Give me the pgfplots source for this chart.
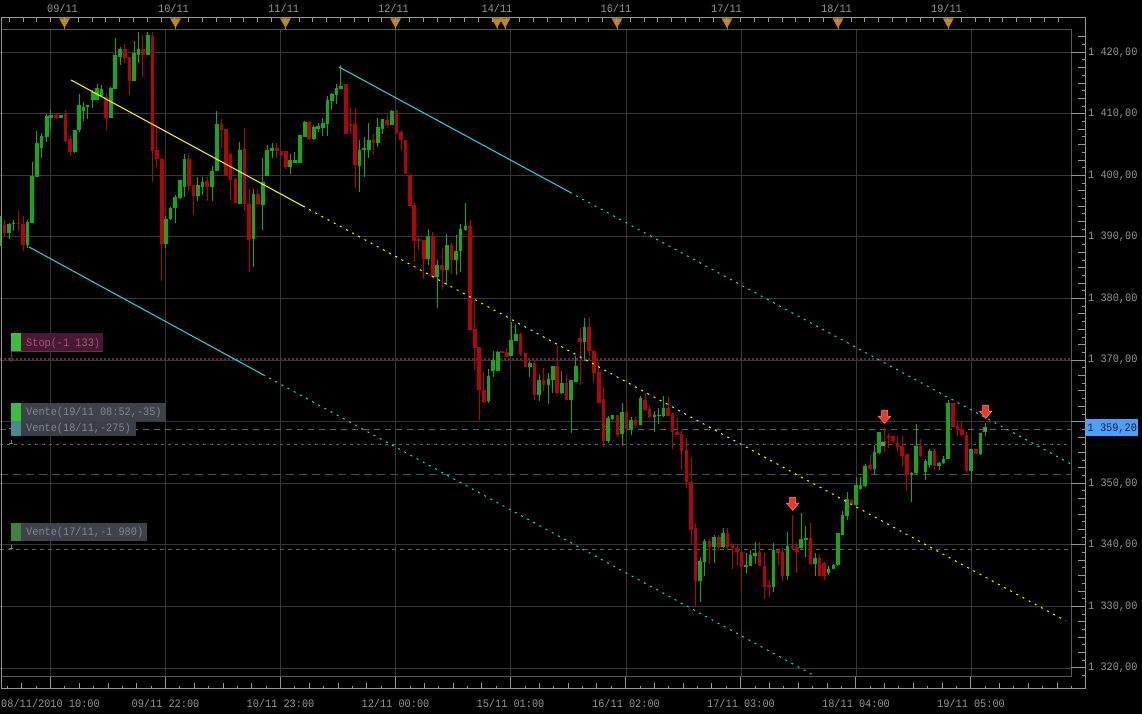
\documentclass[border=0pt]{standalone}
\usepackage{pgfplots}
\pgfplotsset{compat=1.18}
\usepackage{pgfplotstable}
\usepackage{fontspec}
\newfontfamily\pxfam[FakeStretch=0.9]{Liberation Mono}
\newcommand\pxf{\pxfam\fontsize{11.4}{12}\selectfont}
\definecolor{cup}{RGB}{22,168,22}
\definecolor{cdn}{RGB}{178,6,6}
\definecolor{gridc}{RGB}{55,55,55}
\definecolor{innerc}{RGB}{88,88,88}
\definecolor{scalec}{RGB}{150,150,150}
\definecolor{labc}{RGB}{150,150,150}
\definecolor{yel}{RGB}{255,255,0}
\definecolor{cya}{RGB}{40,215,225}
\definecolor{stopc}{RGB}{95,40,70}
\definecolor{ordc}{RGB}{95,95,105}
\definecolor{dashbl}{RGB}{70,80,100}
\definecolor{trig}{RGB}{192,136,20}
\definecolor{arrf}{RGB}{232,58,40}
\definecolor{arre}{RGB}{255,140,110}
\definecolor{tagc}{RGB}{70,162,250}
\definecolor{tagt}{RGB}{10,25,60}
\definecolor{sqg}{RGB}{60,190,60}
\definecolor{sqt}{RGB}{70,140,140}
\definecolor{sqd}{RGB}{65,130,65}
\definecolor{stopbox}{RGB}{72,24,52}
\definecolor{stopln}{RGB}{110,50,80}
\definecolor{stoptx}{RGB}{165,85,125}
\definecolor{vbox}{RGB}{62,66,74}
\definecolor{vbox2}{RGB}{58,62,70}
\definecolor{vtx}{RGB}{130,135,145}
\definecolor{conn}{RGB}{120,120,125}
\pgfdeclareplotmark{evtri}{%
  \pgfpathmoveto{\pgfqpoint{-4.5pt}{0pt}}%
  \pgfpathlineto{\pgfqpoint{4.5pt}{0pt}}%
  \pgfpathlineto{\pgfqpoint{0pt}{-8pt}}%
  \pgfpathclose\pgfusepathqfillstroke
  \pgfpathmoveto{\pgfqpoint{0pt}{-8pt}}%
  \pgfpathlineto{\pgfqpoint{0pt}{-11pt}}%
  \pgfusepathqstroke}
\pgfdeclareplotmark{sigarrow}{%
  \pgfpathmoveto{\pgfqpoint{-3pt}{6.5pt}}%
  \pgfpathlineto{\pgfqpoint{3pt}{6.5pt}}%
  \pgfpathlineto{\pgfqpoint{3pt}{0.5pt}}%
  \pgfpathlineto{\pgfqpoint{6.2pt}{0.5pt}}%
  \pgfpathlineto{\pgfqpoint{0pt}{-6.7pt}}%
  \pgfpathlineto{\pgfqpoint{-6.2pt}{0.5pt}}%
  \pgfpathlineto{\pgfqpoint{-3pt}{0.5pt}}%
  \pgfpathclose\pgfusepathqfillstroke}

\pgfplotstableread{
x o h l c
0.5 1388.8 1393.5 1388.6 1393.4
9 1390.6 1392.3 1389.7 1392.1
13.3 1392.2 1392.8 1391.0 1392.3
27.3 1388.7 1392.8 1388.2 1392.5
32 1392.3 1402.2 1392.3 1399.9
36.7 1399.7 1407.3 1399.7 1405.2
41.3 1404.4 1406.9 1402.9 1406.4
46.7 1406.2 1409.9 1405.5 1409.7
50.7 1409.3 1410.7 1407.2 1409.9
60.7 1409.3 1409.9 1409.3 1409.9
74.7 1403.8 1407.4 1403.7 1407.3
79 1407.3 1413.3 1407.1 1411.5
83.3 1410.5 1412.0 1408.8 1411.2
87.3 1411.2 1411.5 1409.2 1411.4
92.7 1412.3 1413.8 1411.0 1413.5
97 1412.3 1414.8 1412.3 1414.2
101.3 1412.9 1414.7 1412.8 1414.1
110.7 1409.4 1414.4 1409.4 1414.2
115 1414.0 1422.4 1414.0 1419.5
120 1419.3 1420.9 1417.9 1420.5
134 1415.3 1421.8 1415.3 1419.9
138.3 1419.6 1423.3 1418.2 1420.6
147.7 1419.6 1423.3 1419.5 1422.8
165.7 1388.9 1393.4 1388.2 1392.9
170.3 1392.9 1394.8 1392.8 1394.7
175 1394.7 1396.9 1392.2 1396.5
180 1396.3 1399.3 1396.1 1399.3
184.3 1398.1 1403.4 1396.5 1402.7
197.7 1396.7 1399.7 1395.9 1398.5
202.3 1398.2 1399.7 1396.9 1399.0
212 1398.2 1401.6 1395.9 1400.7
216.7 1400.7 1410.4 1400.7 1408.3
239.7 1395.4 1405.4 1395.4 1404.2
253.3 1389.6 1397.8 1385.2 1397.0
262.7 1395.2 1402.9 1391.2 1399.0
267 1399.9 1404.9 1399.9 1404.1
272 1404.0 1405.2 1402.8 1404.4
290 1401.4 1403.5 1400.3 1402.5
294.7 1402.0 1403.8 1402.0 1402.5
300 1402.1 1406.6 1402.0 1406.6
304.7 1406.2 1408.8 1406.2 1408.7
313.7 1405.9 1408.2 1405.8 1407.9
318 1407.6 1408.5 1407.0 1408.1
322.7 1407.7 1409.3 1406.4 1408.5
327.3 1408.3 1412.9 1406.4 1412.3
331.7 1412.1 1413.4 1410.6 1413.2
336.3 1413.0 1414.9 1411.6 1414.2
340.7 1414.1 1417.9 1414.1 1414.6
359.3 1401.6 1405.7 1397.3 1404.2
364 1404.1 1406.2 1399.8 1404.4
368.7 1404.2 1408.6 1402.8 1405.8
377.7 1405.2 1409.4 1404.6 1407.8
382.3 1407.6 1409.2 1406.7 1409.1
391.7 1408.2 1410.6 1408.2 1410.5
428 1386.4 1391.3 1385.5 1390.1
437 1383.5 1386.3 1378.4 1385.5
446.7 1384.6 1390.5 1382.2 1388.7
456 1386.3 1390.4 1383.9 1387.7
460.3 1387.7 1392.1 1384.3 1391.3
465.3 1391.2 1395.6 1390.9 1391.8
488.3 1363.3 1368.6 1363.0 1367.5
493 1368.3 1371.5 1367.3 1370.0
497.7 1368.3 1371.5 1368.2 1371.3
511 1370.6 1376.2 1370.6 1373.3
515.7 1373.1 1375.9 1373.1 1374.2
529.7 1368.9 1369.8 1367.2 1369.5
539 1364.4 1367.6 1363.4 1366.8
548.3 1366.0 1367.9 1362.9 1366.9
552.7 1366.8 1369.1 1364.6 1369.1
561.7 1364.6 1368.2 1364.5 1366.3
571 1363.6 1366.8 1358.2 1366.8
575.7 1366.5 1370.6 1366.5 1369.1
584.3 1373.0 1376.9 1369.8 1375.4
608 1356.8 1360.9 1356.6 1360.6
612.3 1360.4 1361.1 1360.3 1361.1
622 1358.0 1363.0 1356.1 1361.6
631 1358.8 1360.7 1357.9 1360.3
640.3 1359.5 1364.2 1359.5 1363.9
654.3 1360.8 1361.7 1358.4 1361.1
658.7 1361.0 1362.2 1359.7 1361.1
663.3 1361.0 1364.2 1360.8 1362.3
700 1334.1 1338.0 1330.7 1337.4
704.3 1337.3 1340.9 1335.0 1340.6
714 1339.7 1341.6 1337.1 1341.3
723 1339.7 1342.7 1339.5 1341.9
746 1336.4 1338.7 1335.4 1336.8
750.3 1336.5 1339.2 1336.5 1338.4
755 1338.2 1340.4 1336.9 1338.7
773.3 1333.1 1340.3 1332.4 1339.2
787.3 1335.0 1342.1 1334.3 1339.8
801 1339.5 1345.1 1339.2 1340.9
805.7 1340.8 1343.0 1338.1 1341.2
815 1336.9 1338.7 1335.0 1337.8
828.3 1335.4 1336.6 1335.1 1336.1
833.3 1336.1 1336.9 1336.1 1336.8
837.7 1336.8 1341.9 1336.6 1341.9
842.3 1341.6 1345.5 1341.6 1344.9
847 1344.7 1348.6 1344.0 1347.5
856 1346.5 1351.1 1346.3 1349.7
860.3 1349.0 1351.1 1348.9 1349.7
865 1349.5 1353.2 1349.4 1352.8
874.3 1352.4 1356.2 1351.4 1355.1
879 1354.9 1358.4 1354.8 1358.4
911.3 1351.4 1351.9 1347.0 1351.7
916 1351.6 1359.7 1351.4 1356.0
925.3 1351.9 1353.9 1350.6 1353.6
929.7 1353.0 1355.5 1352.6 1355.2
939 1352.8 1353.5 1352.1 1353.3
943.3 1353.3 1354.4 1353.2 1353.9
948 1353.9 1363.6 1353.9 1363.0
971 1352.0 1355.6 1350.2 1355.5
980.3 1354.7 1358.2 1354.6 1358.1
985 1358.4 1359.8 1357.7 1359.2
}\upbars

\pgfplotstableread{
x o h l c
4.3 1391.9 1392.8 1390.0 1390.6
18.3 1392.3 1394.2 1391.0 1392.2
23 1392.1 1393.5 1387.8 1388.7
56 1409.9 1410.1 1409.2 1409.3
65.3 1409.9 1410.7 1405.5 1405.6
70 1405.9 1406.5 1403.2 1403.8
106 1412.7 1413.4 1407.4 1409.4
124.7 1420.6 1421.4 1418.2 1419.1
129.3 1419.3 1419.3 1413.0 1415.3
142.7 1420.6 1422.8 1416.0 1419.6
152.3 1422.7 1423.3 1399.0 1404.0
156.7 1404.1 1408.2 1401.3 1402.7
161.7 1402.7 1402.9 1382.9 1388.9
188.7 1402.7 1403.3 1397.4 1398.3
193.3 1398.4 1398.5 1393.6 1396.7
207 1399.1 1399.7 1395.9 1398.2
221.3 1408.3 1409.2 1404.4 1407.4
226 1407.5 1407.6 1400.1 1400.1
230.3 1403.5 1403.6 1396.1 1399.3
235.3 1399.4 1399.6 1395.4 1395.5
244.3 1404.3 1407.7 1394.2 1395.4
249 1395.4 1397.8 1384.3 1389.6
257.7 1397.0 1397.8 1395.2 1395.3
276.7 1404.4 1405.2 1402.9 1403.9
281.3 1403.9 1404.0 1403.2 1403.4
285.7 1403.9 1404.0 1401.1 1401.4
309 1408.7 1408.8 1405.8 1405.9
345.7 1414.8 1414.9 1406.7 1406.7
350.3 1408.3 1411.1 1406.7 1408.1
355 1408.3 1411.0 1398.0 1401.7
373.3 1405.7 1406.7 1403.3 1405.2
387 1409.0 1409.8 1407.7 1408.2
396.3 1410.5 1410.6 1406.8 1406.9
401 1407.0 1407.4 1404.2 1405.8
405.3 1405.8 1405.8 1400.3 1400.3
410 1400.1 1400.3 1395.0 1395.1
414 1395.2 1395.5 1386.0 1389.4
418.7 1389.7 1390.2 1387.9 1389.5
423.7 1389.5 1389.5 1383.2 1386.4
432.7 1390.1 1390.8 1383.5 1383.5
442 1385.5 1388.2 1381.5 1384.6
451.3 1388.7 1389.1 1384.0 1386.3
470 1391.8 1392.8 1374.9 1374.9
474.7 1375.0 1379.6 1368.4 1372.0
479 1372.1 1372.2 1360.2 1365.2
483.7 1365.2 1368.1 1363.0 1363.2
502 1371.5 1371.5 1371.3 1371.3
506.7 1371.3 1371.9 1370.6 1370.6
520.3 1374.2 1374.4 1370.6 1371.0
525.3 1371.1 1371.2 1368.9 1368.9
534.3 1369.5 1370.0 1363.6 1364.4
543.3 1366.8 1368.7 1365.0 1366.0
557 1369.1 1372.3 1364.6 1364.6
566.3 1366.3 1367.6 1363.6 1363.6
580 1373.6 1375.2 1366.0 1373.0
589 1375.4 1377.0 1370.6 1371.5
593.7 1371.5 1371.6 1366.4 1367.9
598.7 1368.0 1369.5 1363.0 1363.0
603.3 1363.7 1365.6 1355.9 1356.8
617.3 1361.1 1361.1 1357.6 1357.9
626.3 1361.6 1363.1 1358.8 1358.8
635.3 1360.3 1360.7 1359.0 1359.5
645 1363.6 1364.6 1361.8 1361.9
649.3 1362.1 1362.6 1360.6 1360.7
668 1362.3 1364.0 1361.0 1361.0
672.3 1361.2 1361.4 1355.5 1358.3
677 1358.4 1360.6 1357.9 1357.9
681.3 1358.0 1358.7 1352.2 1355.2
686.3 1355.4 1357.4 1349.3 1350.2
691 1350.3 1354.2 1340.2 1342.5
695.3 1342.7 1343.5 1330.0 1334.1
709.3 1340.6 1341.0 1336.9 1339.7
718.7 1341.3 1341.6 1339.2 1339.7
727.3 1342.0 1342.7 1339.2 1339.7
732.3 1340.0 1340.3 1336.1 1339.5
737 1339.5 1340.0 1336.7 1338.8
741.3 1338.9 1338.9 1332.3 1336.4
759.3 1338.8 1340.4 1336.5 1336.5
764.3 1336.6 1338.7 1331.2 1333.2
769 1333.5 1334.3 1331.5 1333.2
778 1339.2 1339.5 1336.8 1338.7
782.3 1338.8 1339.5 1334.1 1335.0
792.3 1339.8 1344.8 1339.2 1339.5
796.7 1339.7 1340.3 1335.4 1338.8
810.3 1341.1 1343.5 1336.8 1336.9
819.3 1337.8 1338.5 1334.9 1334.9
824 1337.1 1337.2 1334.3 1334.9
851.3 1347.3 1347.4 1346.5 1346.6
870 1353.0 1354.6 1352.0 1352.3
884 1356.8 1359.1 1355.1 1356.2
888.3 1357.7 1358.1 1355.7 1357.4
893 1357.6 1357.7 1356.6 1356.8
897.3 1356.6 1357.7 1355.2 1355.9
902 1356.1 1357.6 1352.8 1354.4
906.7 1354.7 1354.7 1348.8 1351.4
920.3 1356.0 1357.2 1354.3 1354.4
934.3 1355.2 1355.5 1352.1 1352.8
952.7 1363.0 1363.1 1359.1 1359.2
957.3 1359.3 1359.9 1357.7 1358.6
961.7 1358.8 1359.9 1357.7 1357.9
966.3 1357.9 1358.3 1351.7 1352.0
976 1355.5 1355.6 1354.7 1354.8
}\dnbars

\begin{document}
\begin{tikzpicture}
\fill[black] (0pt,0pt) rectangle (1142pt,714pt);
\useasboundingbox (0pt,0pt) rectangle (1142pt,714pt);
\begin{axis}[
  at={(0pt,37pt)}, anchor=south west,
  scale only axis, width=1071pt, height=647pt,
  xmin=0, xmax=1071, ymin=1318.54, ymax=1423.62,
  clip=false,
  axis line style={draw=none},
  tick style={draw=none},
  xtick={50.5,165.5,280.5,395.5,510.5,626,741,856,971},
  xticklabels={08/11/2010 10:00,09/11 22:00,10/11 23:00,12/11 00:00,15/11 01:00,16/11 02:00,17/11 03:00,18/11 04:00,19/11 05:00},
  ytick={1320,1330,...,1420},
  yticklabels={{1 320,00},{1 330,00},{1 340,00},{1 350,00},{},{1 370,00},{1 380,00},{1 390,00},{1 400,00},{1 410,00},{1 420,00}},
  yticklabel pos=right,
  grid=major,
  major grid style={draw=gridc, line width=1pt},
  xticklabel style={font=\pxf, text=labc, anchor=center, inner sep=0pt, yshift=-26pt},
  yticklabel style={font=\pxf, text=labc, anchor=west, inner sep=0pt, xshift=17pt},
]
% order lines
\addplot[stopc, line width=2pt, dash pattern=on 2pt off 2pt, forget plot] coordinates {(0,1370.14) (1071,1370.14)};
\addplot[ordc, line width=1pt, dash pattern=on 6pt off 5pt, forget plot] coordinates {(0,1358.77) (1071,1358.77)};
\addplot[ordc, line width=1pt, dash pattern=on 3pt off 4pt, forget plot] coordinates {(0,1356.33) (1071,1356.33)};
\addplot[dashbl, line width=1pt, dash pattern=on 8pt off 5pt, forget plot] coordinates {(0,1351.46) (1071,1351.46)};
\addplot[ordc, line width=1pt, dash pattern=on 4pt off 4pt, forget plot] coordinates {(0,1339.28) (1071,1339.28)};
% candles: wicks
\addplot[draw=none, mark=none, forget plot, error bars/.cd, y dir=both, y explicit, error mark=none,
  error bar style={draw=cup, line width=1pt, solid}]
  table[x=x, y expr={(\thisrow{h}+\thisrow{l})/2}, y error expr={(\thisrow{h}-\thisrow{l})/2}] {\upbars};
\addplot[draw=none, mark=none, forget plot, error bars/.cd, y dir=both, y explicit, error mark=none,
  error bar style={draw=cdn, line width=1pt, solid}]
  table[x=x, y expr={(\thisrow{h}+\thisrow{l})/2}, y error expr={(\thisrow{h}-\thisrow{l})/2}] {\dnbars};
% candles: bodies
\addplot[draw=none, mark=none, forget plot, error bars/.cd, y dir=both, y explicit, error mark=none,
  error bar style={draw=cup, line width=3.6pt, solid}]
  table[x=x, y expr={(\thisrow{o}+\thisrow{c})/2}, y error expr={max(abs(\thisrow{c}-\thisrow{o})/2,0.09)}] {\upbars};
\addplot[draw=none, mark=none, forget plot, error bars/.cd, y dir=both, y explicit, error mark=none,
  error bar style={draw=cdn, line width=3.6pt, solid}]
  table[x=x, y expr={(\thisrow{o}+\thisrow{c})/2}, y error expr={max(abs(\thisrow{c}-\thisrow{o})/2,0.09)}] {\dnbars};
% trend channel
\addplot[yel, line width=1pt, forget plot] coordinates {(71,1415.50) (303,1395.02)};
\addplot[yel, line width=1pt, dash pattern=on 2pt off 5pt, forget plot] coordinates {(303,1395.02) (1066,1327.63)};
\addplot[cya, line width=1pt, forget plot] coordinates {(29,1388.38) (263,1367.64)};
\addplot[cya, line width=1pt, dash pattern=on 2pt off 5pt, forget plot] coordinates {(263,1367.64) (815,1318.70)};
\addplot[cya, line width=1pt, forget plot] coordinates {(339,1417.61) (570,1397.26)};
\addplot[cya, line width=1pt, dash pattern=on 2pt off 5pt, forget plot] coordinates {(570,1397.26) (1071,1353.13)};
% entry points
\addplot[only marks, mark=square*, mark size=1.3pt, mark options={fill=gray, draw=gray}, forget plot] coordinates {(882.5,1356.46) (985,1358.77)};
% signal arrows
\addplot[only marks, mark=sigarrow, mark options={fill=arrf, draw=arre, line width=0.5pt}, forget plot] coordinates {(884.5,1360.82) (792.7,1346.68) (985.7,1361.63)};
% day markers on the top scale
\addplot[only marks, mark=evtri, mark options={fill=trig, draw=trig, line width=1pt}, forget plot] coordinates {(64.5,1425.41) (175.5,1425.41) (285.5,1425.41) (395.5,1425.41) (497,1425.41) (505,1425.41) (617,1425.41) (727,1425.41) (838,1425.41) (948.3,1425.41)};
\end{axis}
\begin{scope}[yshift=714pt, x=1pt, y=-1pt]
  % frames
  \draw[innerc, line width=1pt] (1,30) rectangle (1071,677);
  \draw[scalec, line width=1pt] (1,18) -- (1085,18) -- (1085,689) -- (1,689) -- cycle;
  % top ticks
  \foreach \k in {0,...,76}{\draw[scalec, line width=1pt] ({9.3+13.8*\k},18) -- ({9.3+13.8*\k},21.8);}
  % bottom ticks
  \foreach \j in {-3,...,71}{
    \pgfmathsetmacro\xx{50.5+14.38*\j}
    \pgfmathtruncatemacro\mk{mod(\j+80,8)}
    \pgfmathtruncatemacro\mt{mod(\j+80,2)}
    \ifnum\mk=0 \draw[scalec, line width=1pt] (\xx,677) -- (\xx,689);
    \else\ifnum\mt=0 \draw[scalec, line width=1pt] (\xx,683) -- (\xx,689);
    \else \draw[scalec, line width=1pt] (\xx,686) -- (\xx,689); \fi\fi
  }
  % right ticks
  \foreach \k in {-2,...,81}{
    \pgfmathsetmacro\yy{52.3+7.696*\k}
    \pgfmathtruncatemacro\mk{mod(\k+80,8)}
    \pgfmathtruncatemacro\mt{mod(\k+80,2)}
    \ifnum\mk=0 \draw[scalec, line width=1pt] (1071,\yy) -- (1085,\yy);
    \else\ifnum\mt=0 \draw[scalec, line width=1pt] (1078,\yy) -- (1085,\yy);
    \else \draw[scalec, line width=1pt] (1081.5,\yy) -- (1085,\yy); \fi\fi
  }
  % top date labels
  \foreach \xx/\tt in {62.5/{09/11},173.5/{10/11},283.7/{11/11},393.5/{12/11},497/{14/11},616/{16/11},726.5/{17/11},836.5/{18/11},946.5/{19/11}}{
    \node[anchor=base, inner sep=0pt, font=\pxf, text=labc] at (\xx,13) {\tt};
  }
  % current price tag
  \fill[tagc] (1086,419) rectangle (1138,436);
  \node[anchor=base west, inner sep=0pt, font=\pxf, text=tagt] at (1087.5,431.3) {1 359,20};
  % order labels
  \fill[sqg] (11,333) rectangle (21,351);
  \fill[stopbox] (21,333) rectangle (103,351);
  \draw[stopln, line width=1pt] (11,352) -- (103,352);
  \draw[stopln, line width=1pt] (11,352) -- (11,357.5);
  \draw[stopln, line width=1pt] (11,359.5) circle (1.7);
  \node[anchor=base west, inner sep=0pt, font=\pxf, text=stoptx] at (26,347) {Stop(-1 133)};
  \fill[sqg] (11,403) rectangle (21,421);
  \fill[vbox] (21,403) rectangle (166,421);
  \node[anchor=base west, inner sep=0pt, font=\pxf, text=vtx] at (26,415.5) {Vente(19/11 08:52,-35)};
  \fill[sqt] (11,421.5) rectangle (21,436);
  \fill[vbox2] (21,421.5) rectangle (136,436);
  \node[anchor=base west, inner sep=0pt, font=\pxf, text=vtx] at (26,431.5) {Vente(18/11,-275)};
  \fill[sqd] (11,523) rectangle (21,541);
  \fill[vbox] (21,523) rectangle (147,541);
  \node[anchor=base west, inner sep=0pt, font=\pxf, text=vtx] at (26,535.5) {Vente(17/11,-1 980)};
  \foreach \yy in {429,444,549}{
    \draw[conn, line width=1pt] (11,\yy-4) -- (11,\yy) (9,\yy) -- (13,\yy);
  }
\end{scope}
\end{tikzpicture}
\end{document}
